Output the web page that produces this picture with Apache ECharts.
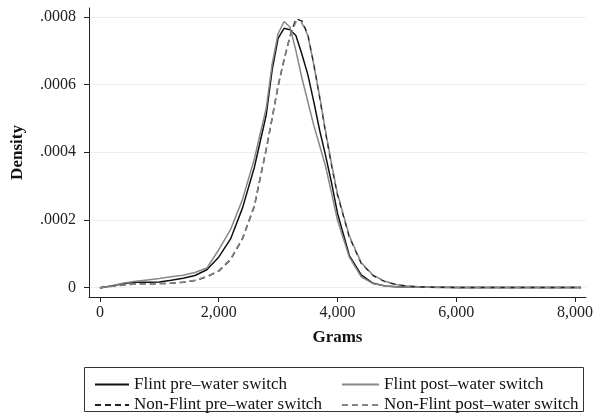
<!DOCTYPE html>
<html>
<head>
<meta charset="utf-8">
<script src="https://cdn.jsdelivr.net/npm/echarts@6/dist/echarts.min.js"></script>
<style>html,body{margin:0;padding:0;background:#fff}#c{width:596px;height:418px}</style>
</head>
<body>
<div id="c"></div>
<script>
// Grams grid (x values)
var grams = [0,200,400,600,800,1000,1200,1400,1600,1800,2000,2200,2400,2600,2800,2900,3000,3100,3200,3300,3400,3500,3600,3700,3800,3900,4000,4200,4400,4600,4800,5000,5200,5500,6000,6500,7000,7500,8100];

var flintPre = [0,0.000005,0.000012,0.000016,0.000016,0.000017,0.000022,0.000028,0.000036,0.000053,0.000090,0.000144,0.000235,0.000355,0.000510,0.000643,0.000736,0.000766,0.000762,0.000745,0.000690,0.000630,0.000550,0.000465,0.000390,0.000310,0.000220,0.000095,0.000038,0.000013,0.000005,0.000003,0.000002,0.000001,0.0000006,0.0000004,0.0000003,0.0000002,0.0000002];

var flintPost = [0,0.000006,0.000014,0.000019,0.000023,0.000027,0.000032,0.000037,0.000045,0.000058,0.000112,0.000172,0.000260,0.000380,0.000530,0.000660,0.000750,0.000786,0.000770,0.000700,0.000620,0.000550,0.000480,0.000420,0.000358,0.000280,0.000200,0.000090,0.000032,0.000012,0.000005,0.000003,0.000002,0.000001,0.0000006,0.0000004,0.0000003,0.0000002,0.0000002];

var nonFlintPre = [0,0.000004,0.000008,0.000011,0.000012,0.000012,0.000013,0.000016,0.000021,0.000032,0.000049,0.000083,0.000144,0.000240,0.000408,0.000500,0.000595,0.000672,0.000742,0.000794,0.000788,0.000748,0.000660,0.000563,0.000458,0.000363,0.000275,0.000150,0.000072,0.000036,0.000018,0.000009,0.000004,0.000002,0.0000008,0.0000005,0.0000004,0.0000003,0.0000002];

var nonFlintPost = [0,0.000004,0.000008,0.000011,0.000012,0.000012,0.000013,0.000016,0.000022,0.000033,0.000050,0.000085,0.000146,0.000243,0.000410,0.000502,0.000598,0.000675,0.000740,0.000785,0.000782,0.000745,0.000660,0.000565,0.000462,0.000366,0.000278,0.000153,0.000074,0.000037,0.000019,0.000009,0.000004,0.000002,0.0000008,0.0000005,0.0000004,0.0000003,0.0000002];

var xTicks = [0,2000,4000,6000,8000];
var yTicks = [0,0.0002,0.0004,0.0006,0.0008];
var yTickLabels = ['0','.0002','.0004','.0006','.0008'];

var names = ['Flint pre\u2013water switch','Flint post\u2013water switch','Non-Flint pre\u2013water switch','Non-Flint post\u2013water switch'];

function pairs(ys){ return grams.map(function(g,i){ return [g, ys[i]]; }); }

var FONT = '"Liberation Serif", "DejaVu Serif", serif';
var chart = echarts.init(document.getElementById('c'), null, {renderer:'canvas'});

function mkSeries(name, ys, color, type){
  return {
    name: name, type: 'line', data: pairs(ys), symbol: 'none', showSymbol: false, smooth: false,
    lineStyle: {color: color, width: 1.5, type: type},
    itemStyle: {color: color},
    emphasis: {disabled: true}, animation: false
  };
}

function mkLegend(data, left, w){
  return {data: data, orient: 'vertical', left: left, top: 376, height: 60, padding: 0,
    itemWidth: w, itemHeight: 14, itemGap: 3.5,
    itemStyle: {opacity: 0},
    textStyle: {fontFamily: FONT, fontSize: 17, color: '#111', lineHeight: 14},
    selectedMode: false};
}

chart.setOption({
  animation: false,
  textStyle: {fontFamily: FONT},
  grid: {left: 89, right: 8, top: 8, bottom: 121, containLabel: false},
  xAxis: {
    type: 'value', min: -184, max: 8184,
    name: 'Grams', nameLocation: 'middle', nameGap: 32,
    nameTextStyle: {fontFamily: FONT, fontWeight: 'bold', fontSize: 17, color: '#111'},
    axisLine: {show: true, onZero: false, lineStyle: {color: '#222', width: 1}},
    axisTick: {show: true, inside: false, length: 5, customValues: xTicks, lineStyle: {color: '#222'}},
    axisLabel: {customValues: xTicks, margin: 8, fontFamily: FONT, fontSize: 16, color: '#222',
      formatter: function(v){ return v.toLocaleString('en-US'); }},
    splitLine: {show: false}
  },
  yAxis: {
    type: 'value', min: -0.0000275, max: 0.000826,
    name: 'Density', nameLocation: 'middle', nameGap: 63, nameRotate: 90,
    nameTextStyle: {fontFamily: FONT, fontWeight: 'bold', fontSize: 17, color: '#111'},
    axisLine: {show: true, onZero: false, lineStyle: {color: '#222', width: 1}},
    axisTick: {show: true, inside: false, length: 5, customValues: yTicks, lineStyle: {color: '#222'}},
    axisLabel: {customValues: yTicks, margin: 13, fontFamily: FONT, fontSize: 16, color: '#222',
      formatter: function(v){ for (var i=0;i<yTicks.length;i++){ if (Math.abs(v-yTicks[i])<1e-9) return yTickLabels[i]; } return ''; }},
    splitLine: {show: true, lineStyle: {color: '#e6eff1', width: 1}}
  },
  legend: [
    mkLegend([names[0], names[2]], 94, 34),
    mkLegend([names[1], names[3]], 341, 37)
  ],
  graphic: [
    {type: 'rect', shape: {x: 84.5, y: 367.5, width: 499, height: 44}, style: {fill: 'none', stroke: '#333', lineWidth: 1}, silent: true}
  ],
  series: [
    mkSeries(names[0], flintPre, '#111111', 'solid'),
    mkSeries(names[1], flintPost, '#888888', 'solid'),
    mkSeries(names[2], nonFlintPre, '#222222', [6,4]),
    mkSeries(names[3], nonFlintPost, '#858585', [6,4])
  ]
});
</script>
</body>
</html>
